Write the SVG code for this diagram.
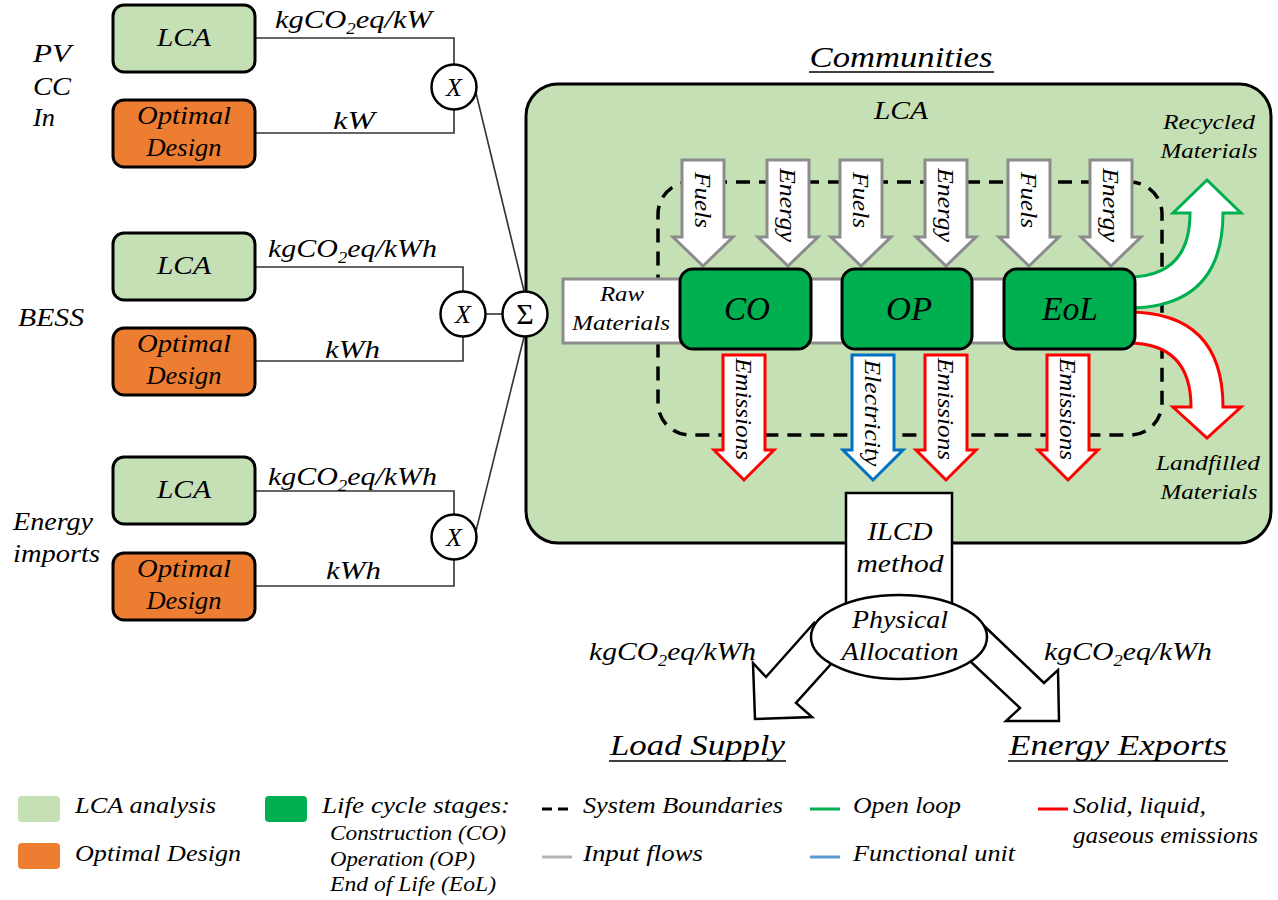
<svg xmlns="http://www.w3.org/2000/svg" width="1278" height="900" viewBox="0 0 1278 900">
<defs>
<style>
text{font-family:"Liberation Serif","Times New Roman",serif;font-style:italic;fill:#000}
.l26{font-size:26px}
.l22{font-size:22px}
.l24{font-size:24px}
.l30{font-size:30px}
.l33{font-size:33px}
.lg{font-size:24px}
.ls{font-size:20px}
.box{stroke:#000;stroke-width:3}
.lca{fill:#C5E0B4}
.opt{fill:#ED7D31}
.stage{fill:#00B050;stroke:#000;stroke-width:3}
.wire{fill:none;stroke:#333;stroke-width:1.6}
.opc{fill:#fff;stroke:#000;stroke-width:2.5}
.in{fill:#fff;stroke:#8c8c8c;stroke-width:3}
.em{fill:#fff;stroke:#f00;stroke-width:3}
.el{fill:#fff;stroke:#0070C0;stroke-width:3}
.big{fill:#fff;stroke:#000;stroke-width:2.5}
.ul{stroke:#000;stroke-width:1.5}
</style>
</defs>
<rect width="1278" height="900" fill="#fff"/>

<g id="connectors">
<polyline class="wire" points="255,38 454,38 454,65"/>
<polyline class="wire" points="255,133 454,133 454,110"/>
<polyline class="wire" points="255,267 463,267 463,291"/>
<polyline class="wire" points="255,361 463,361 463,337"/>
<polyline class="wire" points="255,491 454,491 454,514"/>
<polyline class="wire" points="255,586 454,586 454,560"/>
<line class="wire" x1="486" y1="314" x2="502" y2="314"/>
<line class="wire" x1="476" y1="93" x2="524" y2="291"/>
<line class="wire" x1="476" y1="531" x2="524" y2="337"/>
</g>

<g id="labels-left">
<text class="l26" x="33" y="62" textLength="38" lengthAdjust="spacingAndGlyphs">PV</text>
<text class="l26" x="33" y="95" textLength="38" lengthAdjust="spacingAndGlyphs">CC</text>
<text class="l26" x="33" y="126" textLength="22" lengthAdjust="spacingAndGlyphs">In</text>
<text class="l26" x="18" y="326" textLength="66" lengthAdjust="spacingAndGlyphs">BESS</text>
<text class="l26" x="13" y="530" textLength="80" lengthAdjust="spacingAndGlyphs">Energy</text>
<text class="l26" x="13" y="562" textLength="87" lengthAdjust="spacingAndGlyphs">imports</text>
<text class="l26" x="275" y="28" textLength="157" lengthAdjust="spacingAndGlyphs">kgCO<tspan font-size="16" dy="6">2</tspan><tspan dy="-6">eq/kW</tspan></text>
<text class="l26" x="333" y="129" textLength="42" lengthAdjust="spacingAndGlyphs">kW</text>
<text class="l26" x="268" y="257" textLength="169" lengthAdjust="spacingAndGlyphs">kgCO<tspan font-size="16" dy="6">2</tspan><tspan dy="-6">eq/kWh</tspan></text>
<text class="l26" x="325" y="358" textLength="55" lengthAdjust="spacingAndGlyphs">kWh</text>
<text class="l26" x="268" y="485" textLength="169" lengthAdjust="spacingAndGlyphs">kgCO<tspan font-size="16" dy="6">2</tspan><tspan dy="-6">eq/kWh</tspan></text>
<text class="l26" x="326" y="579" textLength="55" lengthAdjust="spacingAndGlyphs">kWh</text>
</g>

<g id="lca-pv">
<rect x="113" y="5" width="142" height="67" rx="11" class="box lca"/>
<text class="l26" x="184" y="46" text-anchor="middle" textLength="54" lengthAdjust="spacingAndGlyphs">LCA</text>
</g>
<g id="opt-pv">
<rect x="113" y="100" width="142" height="67" rx="11" class="box opt"/>
<text class="l26" x="184" y="124" text-anchor="middle" textLength="94" lengthAdjust="spacingAndGlyphs">Optimal</text>
<text class="l26" x="184" y="156" text-anchor="middle" textLength="75" lengthAdjust="spacingAndGlyphs">Design</text>
</g>
<g id="lca-bess">
<rect x="113" y="233" width="142" height="67" rx="11" class="box lca"/>
<text class="l26" x="184" y="274" text-anchor="middle" textLength="54" lengthAdjust="spacingAndGlyphs">LCA</text>
</g>
<g id="opt-bess">
<rect x="113" y="328" width="142" height="67" rx="11" class="box opt"/>
<text class="l26" x="184" y="352" text-anchor="middle" textLength="94" lengthAdjust="spacingAndGlyphs">Optimal</text>
<text class="l26" x="184" y="384" text-anchor="middle" textLength="75" lengthAdjust="spacingAndGlyphs">Design</text>
</g>
<g id="lca-imp">
<rect x="113" y="457" width="142" height="67" rx="11" class="box lca"/>
<text class="l26" x="184" y="498" text-anchor="middle" textLength="54" lengthAdjust="spacingAndGlyphs">LCA</text>
</g>
<g id="opt-imp">
<rect x="113" y="553" width="142" height="67" rx="11" class="box opt"/>
<text class="l26" x="184" y="577" text-anchor="middle" textLength="94" lengthAdjust="spacingAndGlyphs">Optimal</text>
<text class="l26" x="184" y="609" text-anchor="middle" textLength="75" lengthAdjust="spacingAndGlyphs">Design</text>
</g>

<g id="x1"><circle cx="454" cy="87" r="22.5" class="opc"/><text class="l26" x="454" y="96" text-anchor="middle">X</text></g>
<g id="x2"><circle cx="463" cy="314" r="22.5" class="opc"/><text class="l26" x="463" y="323" text-anchor="middle">X</text></g>
<g id="x3"><circle cx="454" cy="537" r="22.5" class="opc"/><text class="l26" x="454" y="546" text-anchor="middle">X</text></g>

<g id="communities">
<text class="l30" x="901" y="67" text-anchor="middle" textLength="183" lengthAdjust="spacingAndGlyphs">Communities</text>
<line class="ul" x1="809" y1="72" x2="994" y2="72"/>
<rect x="526" y="84" width="745" height="459" rx="32" fill="#C5E0B4" stroke="#000" stroke-width="3"/>
<text class="l26" x="901" y="119" text-anchor="middle" textLength="54" lengthAdjust="spacingAndGlyphs">LCA</text>
</g>

<g id="sum"><circle cx="525" cy="314" r="22.5" class="opc"/><text x="525" y="324" text-anchor="middle" font-size="30" style="font-style:normal">Σ</text></g>

<g id="boundary">
<rect x="658" y="182" width="504" height="253" rx="32" fill="none" stroke="#000" stroke-width="3.5" stroke-dasharray="14 9"/>
</g>

<g id="raw-materials">
<rect x="563" y="279" width="480" height="64" fill="#fff" stroke="#8c8c8c" stroke-width="3"/>
<text class="l22" x="622" y="301" text-anchor="middle" textLength="44" lengthAdjust="spacingAndGlyphs">Raw</text>
<text class="l22" x="621" y="330" text-anchor="middle" textLength="98" lengthAdjust="spacingAndGlyphs">Materials</text>
</g>

<g id="recycled">
<path class="in" style="stroke:#00B050" d="M1128,277 Q1190,277 1190,213 H1173 L1207,180 L1241,213 H1223 Q1223,308 1128,308 Z"/>
<text class="l22" x="1209" y="129" text-anchor="middle" textLength="92" lengthAdjust="spacingAndGlyphs">Recycled</text>
<text class="l22" x="1209" y="158" text-anchor="middle" textLength="97" lengthAdjust="spacingAndGlyphs">Materials</text>
</g>
<g id="landfilled">
<path class="em" d="M1128,312 Q1223,312 1223,407 H1241 L1207,438 L1173,407 H1191 Q1191,343 1128,343 Z"/>
<text class="l22" x="1208" y="470" text-anchor="middle" textLength="104" lengthAdjust="spacingAndGlyphs">Landfilled</text>
<text class="l22" x="1209" y="499" text-anchor="middle" textLength="97" lengthAdjust="spacingAndGlyphs">Materials</text>
</g>

<g id="inputs">
<path class="in" d="M682,160 H724 V237 H733 L703,266 L673,237 H682 Z"/>
<path class="in" d="M767,160 H809 V237 H818 L788,266 L758,237 H767 Z"/>
<path class="in" d="M840,160 H882 V237 H891 L861,266 L831,237 H840 Z"/>
<path class="in" d="M925,160 H967 V237 H976 L946,266 L916,237 H925 Z"/>
<path class="in" d="M1008,160 H1050 V237 H1059 L1029,266 L999,237 H1008 Z"/>
<path class="in" d="M1090,160 H1132 V237 H1141 L1111,266 L1081,237 H1090 Z"/>
<text class="l24" transform="translate(703,200) rotate(90)" text-anchor="middle" dy="0.33em" textLength="56" lengthAdjust="spacingAndGlyphs">Fuels</text>
<text class="l24" transform="translate(788,205) rotate(90)" text-anchor="middle" dy="0.33em" textLength="74" lengthAdjust="spacingAndGlyphs">Energy</text>
<text class="l24" transform="translate(861,200) rotate(90)" text-anchor="middle" dy="0.33em" textLength="56" lengthAdjust="spacingAndGlyphs">Fuels</text>
<text class="l24" transform="translate(946,205) rotate(90)" text-anchor="middle" dy="0.33em" textLength="74" lengthAdjust="spacingAndGlyphs">Energy</text>
<text class="l24" transform="translate(1029,200) rotate(90)" text-anchor="middle" dy="0.33em" textLength="56" lengthAdjust="spacingAndGlyphs">Fuels</text>
<text class="l24" transform="translate(1111,205) rotate(90)" text-anchor="middle" dy="0.33em" textLength="74" lengthAdjust="spacingAndGlyphs">Energy</text>
</g>

<g id="outputs">
<path class="em" d="M723,355 H765 V450 H774 L744,480 L714,450 H723 Z"/>
<path class="el" d="M852,355 H894 V450 H903 L873,480 L843,450 H852 Z"/>
<path class="em" d="M925,355 H967 V450 H976 L946,480 L916,450 H925 Z"/>
<path class="em" d="M1047,355 H1089 V450 H1098 L1068,480 L1038,450 H1047 Z"/>
<text class="l24" transform="translate(744,409) rotate(90)" text-anchor="middle" dy="0.33em" textLength="102" lengthAdjust="spacingAndGlyphs">Emissions</text>
<text class="l24" transform="translate(873,413) rotate(90)" text-anchor="middle" dy="0.33em" textLength="107" lengthAdjust="spacingAndGlyphs">Electricity</text>
<text class="l24" transform="translate(946,409) rotate(90)" text-anchor="middle" dy="0.33em" textLength="102" lengthAdjust="spacingAndGlyphs">Emissions</text>
<text class="l24" transform="translate(1068,409) rotate(90)" text-anchor="middle" dy="0.33em" textLength="102" lengthAdjust="spacingAndGlyphs">Emissions</text>
</g>

<g id="co"><rect x="680" y="269" width="131" height="80" rx="13" class="stage"/><text class="l33" x="747" y="320" text-anchor="middle" textLength="46" lengthAdjust="spacingAndGlyphs">CO</text></g>
<g id="op"><rect x="842" y="269" width="130" height="80" rx="13" class="stage"/><text class="l33" x="909" y="320" text-anchor="middle" textLength="46" lengthAdjust="spacingAndGlyphs">OP</text></g>
<g id="eol"><rect x="1004" y="269" width="131" height="80" rx="13" class="stage"/><text class="l33" x="1070" y="320" text-anchor="middle" textLength="56" lengthAdjust="spacingAndGlyphs">EoL</text></g>

<g id="allocation-arrows">
<path class="big" d="M814,623 L766,677 L753,663 L755,719 L812,717 L796,703 L831,664 Z"/>
<path class="big" d="M980,622 L1044,683 L1058,670 L1059,721 L1006,721 L1020,708 L971,662 Z"/>
</g>

<g id="ilcd">
<rect x="846" y="493" width="106" height="125" class="big"/>
<text class="l26" x="900" y="540" text-anchor="middle" textLength="65" lengthAdjust="spacingAndGlyphs">ILCD</text>
<text class="l26" x="900" y="572" text-anchor="middle" textLength="87" lengthAdjust="spacingAndGlyphs">method</text>
</g>
<g id="physical-allocation">
<ellipse cx="899" cy="637" rx="88" ry="42" class="big"/>
<text class="l26" x="900" y="628" text-anchor="middle" textLength="96" lengthAdjust="spacingAndGlyphs">Physical</text>
<text class="l26" x="900" y="660" text-anchor="middle" textLength="117" lengthAdjust="spacingAndGlyphs">Allocation</text>
</g>

<g id="load-supply">
<text class="l26" x="589" y="660" textLength="167" lengthAdjust="spacingAndGlyphs">kgCO<tspan font-size="16" dy="6">2</tspan><tspan dy="-6">eq/kWh</tspan></text>
<text class="l30" x="610" y="755" textLength="175" lengthAdjust="spacingAndGlyphs">Load Supply</text>
<line class="ul" x1="609" y1="761" x2="786" y2="761"/>
</g>
<g id="energy-exports">
<text class="l26" x="1044" y="660" textLength="168" lengthAdjust="spacingAndGlyphs">kgCO<tspan font-size="16" dy="6">2</tspan><tspan dy="-6">eq/kWh</tspan></text>
<text class="l30" x="1009" y="755" textLength="218" lengthAdjust="spacingAndGlyphs">Energy Exports</text>
<line class="ul" x1="1008" y1="761" x2="1228" y2="761"/>
</g>

<g id="legend">
<rect x="18" y="796" width="42" height="26" rx="4" fill="#C5E0B4"/>
<text class="lg" x="75" y="813" textLength="141" lengthAdjust="spacingAndGlyphs">LCA analysis</text>
<rect x="18" y="843" width="42" height="26" rx="4" fill="#ED7D31"/>
<text class="lg" x="75" y="861" textLength="166" lengthAdjust="spacingAndGlyphs">Optimal Design</text>
<rect x="265" y="796" width="42" height="26" rx="4" fill="#00B050"/>
<text class="lg" x="322" y="813" textLength="188" lengthAdjust="spacingAndGlyphs">Life cycle stages:</text>
<text class="ls" x="330" y="840" textLength="176" lengthAdjust="spacingAndGlyphs">Construction (CO)</text>
<text class="ls" x="330" y="866" textLength="145" lengthAdjust="spacingAndGlyphs">Operation (OP)</text>
<text class="ls" x="330" y="891" textLength="166" lengthAdjust="spacingAndGlyphs">End of Life (EoL)</text>
<line x1="542" y1="809" x2="572" y2="809" stroke="#000" stroke-width="3" stroke-dasharray="10 6"/>
<text class="lg" x="583" y="813" textLength="200" lengthAdjust="spacingAndGlyphs">System Boundaries</text>
<line x1="542" y1="857" x2="572" y2="857" stroke="#b4b4b4" stroke-width="3"/>
<text class="lg" x="583" y="861" textLength="120" lengthAdjust="spacingAndGlyphs">Input flows</text>
<line x1="810" y1="809" x2="840" y2="809" stroke="#00B050" stroke-width="3"/>
<text class="lg" x="853" y="813" textLength="108" lengthAdjust="spacingAndGlyphs">Open loop</text>
<line x1="810" y1="857" x2="840" y2="857" stroke="#5B9BD5" stroke-width="3"/>
<text class="lg" x="853" y="861" textLength="162" lengthAdjust="spacingAndGlyphs">Functional unit</text>
<line x1="1038" y1="809" x2="1068" y2="809" stroke="#f00" stroke-width="3"/>
<text class="lg" x="1073" y="813" textLength="133" lengthAdjust="spacingAndGlyphs">Solid, liquid,</text>
<text class="lg" x="1073" y="843" textLength="185" lengthAdjust="spacingAndGlyphs">gaseous emissions</text>
</g>
</svg>
